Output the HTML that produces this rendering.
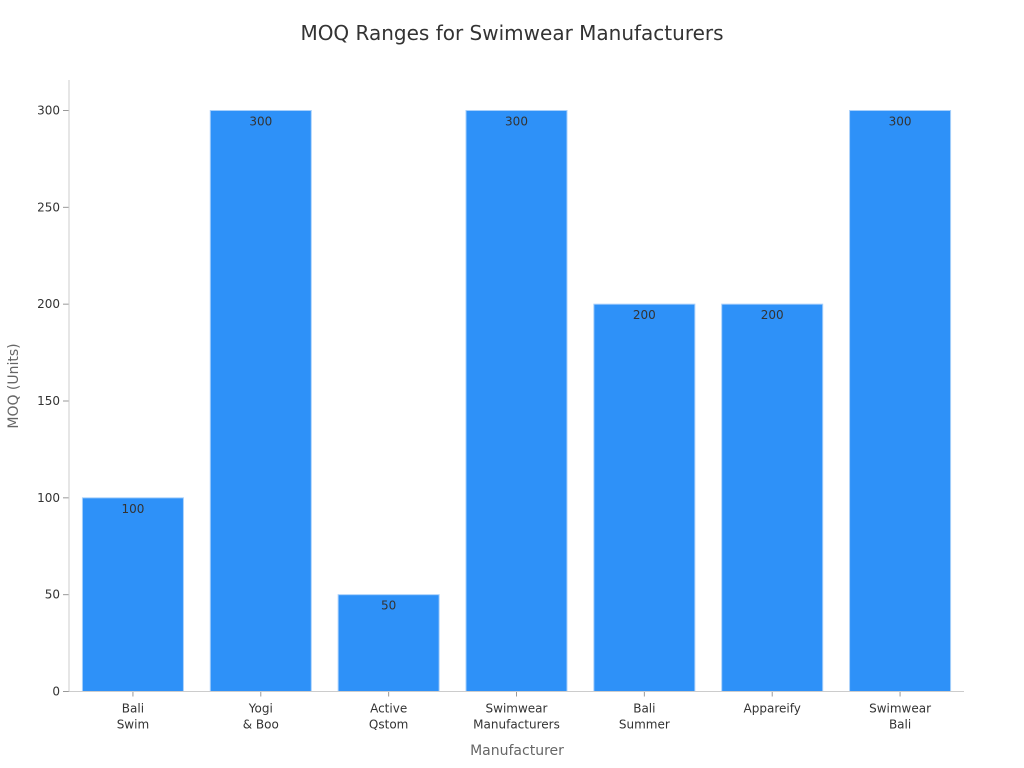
<!DOCTYPE html>
<html><head><meta charset="utf-8"><style>
body{margin:0;background:#fff}
svg{display:block;font-family:"DejaVu Sans","Liberation Sans",sans-serif}
</style></head><body>
<svg id="chart" width="1024" height="768">
<text x="512" y="40" text-anchor="middle" font-size="20" fill="#333">MOQ Ranges for Swimwear Manufacturers</text>
<g id="plot"></g>
<text x="517" y="755" text-anchor="middle" font-size="14" fill="#666">Manufacturer</text>
<text transform="translate(18,386) rotate(-90)" text-anchor="middle" font-size="14" fill="#666">MOQ (Units)</text>
</svg>
<script>
const categories=[["Bali","Swim"],["Yogi","& Boo"],["Active","Qstom"],["Swimwear","Manufacturers"],["Bali","Summer"],["Appareify"],["Swimwear","Bali"]];
const values=[100,300,50,300,200,200,300];
const yTicks=[0,50,100,150,200,250,300];
const X0=69,X1=964,Y0=691.5,Y1=110.5,YMAX=300;
const ns="http://www.w3.org/2000/svg";
const g=document.getElementById('plot');
function y(v){return Y0-(v/YMAX)*(Y0-Y1);}
const band=(X1-X0)/categories.length;
function xc(i){return X0+band*(i+0.5);}
function mk(t,a,txt){const e=document.createElementNS(ns,t);for(const k in a)e.setAttribute(k,a[k]);if(txt!=null)e.textContent=txt;g.appendChild(e);return e;}
yTicks.forEach(v=>{
 const l=mk('line',{x1:X0-6,x2:X0,y1:y(v),y2:y(v),stroke:'#999'});
 
 
 const t=mk('text',{x:X0-9,y:y(v)+4,'text-anchor':'end','font-size':12,fill:'#333'},v);
 
 
});
values.forEach((v,i)=>{
 const w=band*0.79;
 const r=mk('rect',{x:xc(i)-w/2,y:y(v),width:w,height:Y0-y(v),fill:'#2e91f8',stroke:'#a8d0fb','stroke-width':1});
 
 
 const t=mk('text',{x:xc(i),y:y(v)+15,'text-anchor':'middle','font-size':12,fill:'#333'},v);
 
 
 const tk=mk('line',{x1:xc(i),x2:xc(i),y1:Y0,y2:Y0+5,stroke:'#999'});
 
 
 categories[i].forEach((s,j)=>{
  const c=mk('text',{x:xc(i),y:Y0+21+j*16,'text-anchor':'middle','font-size':12,fill:'#333'},s);
  
  
 });
});
const ya=mk('line',{x1:X0,x2:X0,y1:80,y2:Y0,stroke:'#ccc'});


const xa=mk('line',{x1:X0,x2:X1,y1:Y0,y2:Y0,stroke:'#ccc'});


</script>
</body></html>
